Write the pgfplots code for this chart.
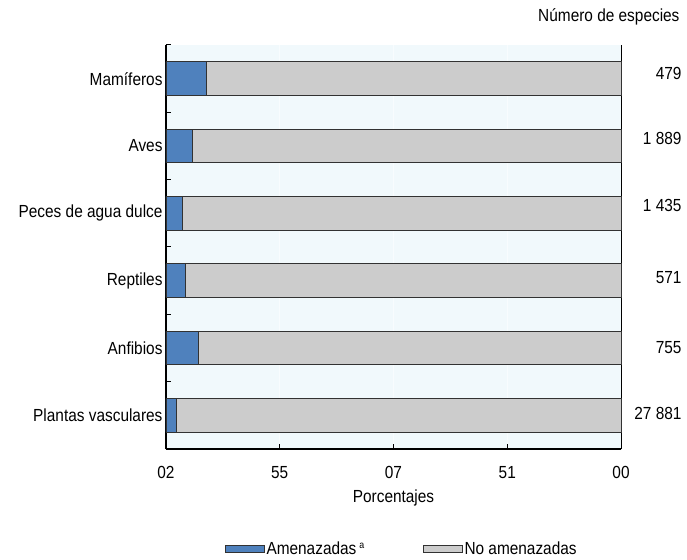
\documentclass[border=0pt]{standalone}
\usepackage{fontspec}
\setmainfont{Liberation Sans}[FakeStretch=0.88]
\usepackage{pgfplots}
\pgfplotsset{compat=1.18}
\definecolor{barblue}{RGB}{79,129,189}
\definecolor{bargray}{RGB}{204,204,204}
\definecolor{bgblue}{RGB}{241,249,252}
\definecolor{gridc}{RGB}{248,252,254}
\definecolor{edgec}{RGB}{50,50,50}
\begin{document}
\begin{tikzpicture}[font=\fontsize{17.5bp}{21bp}\selectfont]
\begin{axis}[
  scale only axis,
  width=455bp, height=404bp,
  xbar stacked,
  bar width=0.5,
  xmin=0, xmax=100,
  ymin=-0.5, ymax=5.5,
  axis x line*=bottom,
  axis y line*=left,
  axis line style={-, line width=1.2bp, black},
  axis background/.style={fill=bgblue},
  xmajorgrids,
  major grid style={gridc, line width=1bp},
  xtick={0,25,50,75,100},
  xticklabels={02,55,07,51,00},
  tick align=inside,
  major tick length=5bp,
  tick style={black, line width=1bp},
  xticklabel style={yshift=-14bp},
  ytick={0,1,2,3,4,5},
  yticklabels={Plantas vasculares,Anfibios,Reptiles,Peces de agua dulce,Aves,Mamíferos},
  ytick style={draw=none},
  extra y ticks={0.5,1.5,2.5,3.5,4.5,5.5},
  extra y tick labels={},
  extra y tick style={ytick style={draw=black, line width=1bp}, major tick length=5bp, grid=none},
  /pgf/number format/assume math mode=true,
  xlabel={Porcentajes},
  xlabel style={at={(axis description cs:0.5,-0.1213)}, anchor=center},
  clip=false,
  legend columns=2,
  legend style={draw=none, fill=none, at={(0.518,-0.2475)}, anchor=center,
    /tikz/every even column/.append style={column sep=57bp},
    nodes={inner sep=1.5bp}},
  legend image code/.code={\draw[#1] (0bp,-3.5bp) rectangle (39bp,3.5bp);},
]
\addplot[fill=barblue, draw=edgec, line width=0.8bp] coordinates {
  (2.2,0) (7.2,1) (4.2,2) (3.6,3) (5.8,4) (8.8,5)};
\addlegendentry{Amenazadas\,\textsuperscript{\fontsize{10bp}{12bp}\selectfont a}}
\addplot[fill=bargray, draw=edgec, line width=0.8bp] coordinates {
  (97.8,0) (92.8,1) (95.8,2) (96.4,3) (94.2,4) (91.2,5)};
\addlegendentry{No amenazadas}
\draw[black, line width=1bp] (rel axis cs:1,0) -- (rel axis cs:1,1);
\node[anchor=east] at (axis cs:100,5) [xshift=64bp, yshift=5bp] {479};
\node[anchor=east] at (axis cs:100,4) [xshift=64bp, yshift=8bp] {1 889};
\node[anchor=east] at (axis cs:100,3) [xshift=64bp, yshift=8bp] {1 435};
\node[anchor=east] at (axis cs:100,2) [xshift=64bp, yshift=3bp] {571};
\node[anchor=east] at (axis cs:100,1) [xshift=64bp, yshift=0bp] {755};
\node[anchor=east] at (axis cs:100,0) [xshift=64bp, yshift=2bp] {27 881};
\node[anchor=east] at (rel axis cs:1,1) [xshift=62bp, yshift=28bp] {Número de especies};
\end{axis}
\pgfresetboundingbox
\path[use as bounding box] (-166bp,-111bp) rectangle (521bp,449bp);
\end{tikzpicture}
\end{document}
